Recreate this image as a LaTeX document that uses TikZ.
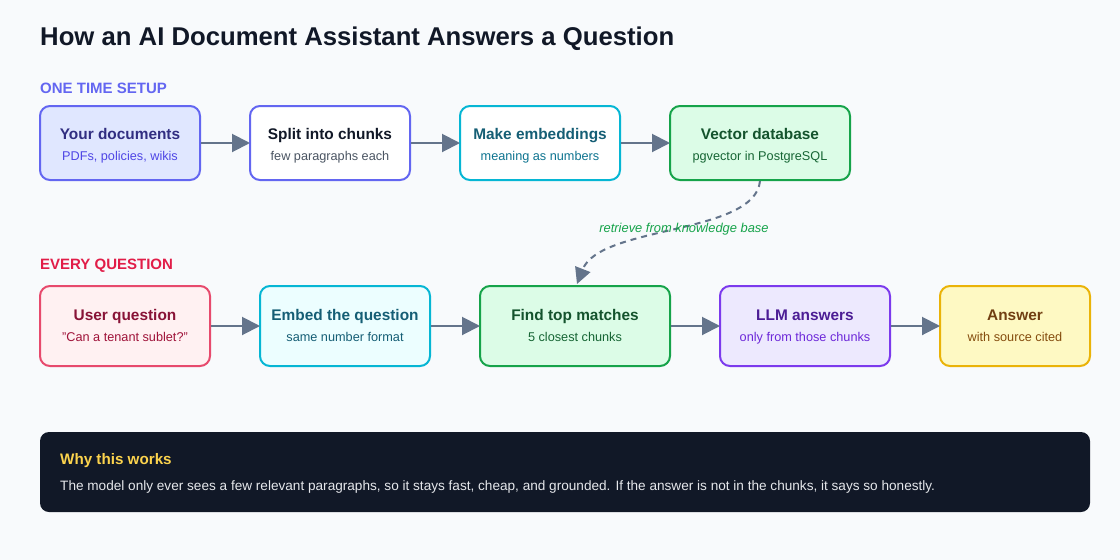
\documentclass[tikz,border=0pt]{standalone}
\usepackage{fontspec}
\setmainfont{Liberation Sans}
\usetikzlibrary{arrows.meta}
\definecolor{bg}{HTML}{F8FAFC}
\definecolor{ink}{HTML}{111827}
\definecolor{arr}{HTML}{64748B}
\definecolor{indS}{HTML}{6366F1}\definecolor{indF}{HTML}{E0E7FF}\definecolor{indT}{HTML}{312E81}\definecolor{indU}{HTML}{4F46E5}
\definecolor{gryU}{HTML}{4B5563}
\definecolor{cyS}{HTML}{06B6D4}\definecolor{cyF}{HTML}{ECFEFF}\definecolor{cyT}{HTML}{155E75}\definecolor{cyU}{HTML}{0E7490}
\definecolor{grS}{HTML}{16A34A}\definecolor{grF}{HTML}{DCFCE7}\definecolor{grT}{HTML}{14532D}\definecolor{grU}{HTML}{166534}
\definecolor{rdS}{HTML}{E11D48}\definecolor{rdF}{HTML}{FFF1F2}\definecolor{rdT}{HTML}{881337}\definecolor{rdU}{HTML}{9F1239}
\definecolor{puS}{HTML}{7C3AED}\definecolor{puF}{HTML}{EDE9FE}\definecolor{puT}{HTML}{4C1D95}\definecolor{puU}{HTML}{6D28D9}
\definecolor{yeS}{HTML}{EAB308}\definecolor{yeF}{HTML}{FEF9C3}\definecolor{yeT}{HTML}{713F12}\definecolor{yeU}{HTML}{854D0E}
\definecolor{dark}{HTML}{111827}\definecolor{gold}{HTML}{FCD34D}\definecolor{lite}{HTML}{E5E7EB}
\tikzset{
  box/.style={draw, line width=2pt, rounded corners=10pt, inner sep=0pt},
  r1/.style={box, minimum height=74pt},
  r2/.style={box, minimum height=80pt},
  ttl/.style={font=\bfseries\fontsize{15.4}{18}\selectfont, inner sep=0pt, anchor=base},
  sub/.style={font=\fontsize{12.7}{15}\selectfont, inner sep=0pt, anchor=base},
  flow/.style={draw=arr, line width=2pt, -{Triangle[length=18pt,width=18pt]}, shorten >=-1pt},
  sect/.style={font=\bfseries\fontsize{15}{17}\selectfont, anchor=west, inner sep=0pt}
}
\begin{document}
\begin{tikzpicture}[x=1pt,y=-1pt]
\useasboundingbox[fill=bg] (0,0) rectangle (1120,560);
\node[anchor=west, inner sep=0pt, text=ink, font=\bfseries\fontsize{25.7}{30}\selectfont] (title) at (40,39) {How an AI Document Assistant Answers a Question};
\node[sect, text=indS] (s1) at (40,88) {ONE TIME SETUP};
\node[sect, text=rdS] (s2) at (40,266) {EVERY QUESTION};
% row 1
\node[r1, draw=indS, fill=indF, minimum width=160pt] (a1) at (120,143) {};
\node[r1, draw=indS, fill=white, minimum width=160pt] (a2) at (330,143) {};
\node[r1, draw=cyS, fill=white, minimum width=160pt] (a3) at (540,143) {};
\node[r1, draw=grS, fill=grF, minimum width=180pt] (a4) at (760,143) {};
\node[ttl, text=indT] (a1t) at ([yshift=4pt]a1.center) {Your documents};
\node[sub, text=indU] (a1s) at ([yshift=-17pt]a1.center) {PDFs, policies, wikis};
\node[ttl, text=ink] (a2t) at ([yshift=4pt]a2.center) {Split into chunks};
\node[sub, text=gryU] (a2s) at ([yshift=-17pt]a2.center) {few paragraphs each};
\node[ttl, text=cyT] (a3t) at ([yshift=4pt]a3.center) {Make embeddings};
\node[sub, text=cyU] (a3s) at ([yshift=-17pt]a3.center) {meaning as numbers};
\node[ttl, text=grT] (a4t) at ([yshift=4pt]a4.center) {Vector database};
\node[sub, text=grU] (a4s) at ([yshift=-17pt]a4.center) {pgvector in PostgreSQL};
% row 2
\node[r2, draw=rdS!80, fill=rdF, minimum width=170pt] (b1) at (125,326) {};
\node[r2, draw=cyS, fill=cyF, minimum width=170pt] (b2) at (345,326) {};
\node[r2, draw=grS, fill=grF, minimum width=190pt] (b3) at (575,326) {};
\node[r2, draw=puS, fill=puF, minimum width=170pt] (b4) at (805,326) {};
\node[r2, draw=yeS, fill=yeF, minimum width=150pt] (b5) at (1015,326) {};
\node[ttl, text=rdT] (b1t) at ([yshift=6pt]b1.center) {User question};
\node[sub, text=rdU] (b1s) at ([yshift=-15pt]b1.center) {"Can a tenant sublet?"};
\node[ttl, text=cyT] (b2t) at ([yshift=6pt]b2.center) {Embed the question};
\node[sub, text=cyT] (b2s) at ([yshift=-15pt]b2.center) {same number format};
\node[ttl, text=grT] (b3t) at ([yshift=6pt]b3.center) {Find top matches};
\node[sub, text=grU] (b3s) at ([yshift=-15pt]b3.center) {5 closest chunks};
\node[ttl, text=puT] (b4t) at ([yshift=6pt]b4.center) {LLM answers};
\node[sub, text=puU] (b4s) at ([yshift=-15pt]b4.center) {only from those chunks};
\node[ttl, text=yeT] (b5t) at ([yshift=6pt]b5.center) {Answer};
\node[sub, text=yeU] (b5s) at ([yshift=-15pt]b5.center) {with source cited};
% arrows
\draw[flow] (a1) -- (a2);
\draw[flow] (a2) -- (a3);
\draw[flow] (a3) -- (a4);
\draw[flow] (b1) -- (b2);
\draw[flow] (b2) -- (b3);
\draw[flow] (b3) -- (b4);
\draw[flow] (b4) -- (b5);
\coordinate (dtop) at (760,181);
\coordinate (dend) at (577,284);
\draw[draw=arr, line width=2pt, dash pattern=on 6pt off 5pt, -{Triangle[length=16pt,width=16pt]}] (dtop) .. controls (755,235) and (600,225) .. (dend);
\node[inner sep=0pt, text=grS, font=\itshape\fontsize{12.9}{15}\selectfont] (lbl) at (684,229) {retrieve from knowledge base};
% note
\node[fill=dark, rounded corners=9pt, minimum width=1050pt, minimum height=80pt, inner sep=0pt] (note) at (565,472) {};
\node[anchor=west, inner sep=0pt, text=gold, font=\bfseries\fontsize{15.2}{18}\selectfont] (nt) at (60,461) {Why this works};
\node[anchor=west, inner sep=0pt, text=lite, font=\fontsize{13.6}{16}\selectfont] (nb) at (60,487) {The model only ever sees a few relevant paragraphs, so it stays fast, cheap, and grounded. If the answer is not in the chunks, it says so honestly.};
\end{tikzpicture}
\end{document}
